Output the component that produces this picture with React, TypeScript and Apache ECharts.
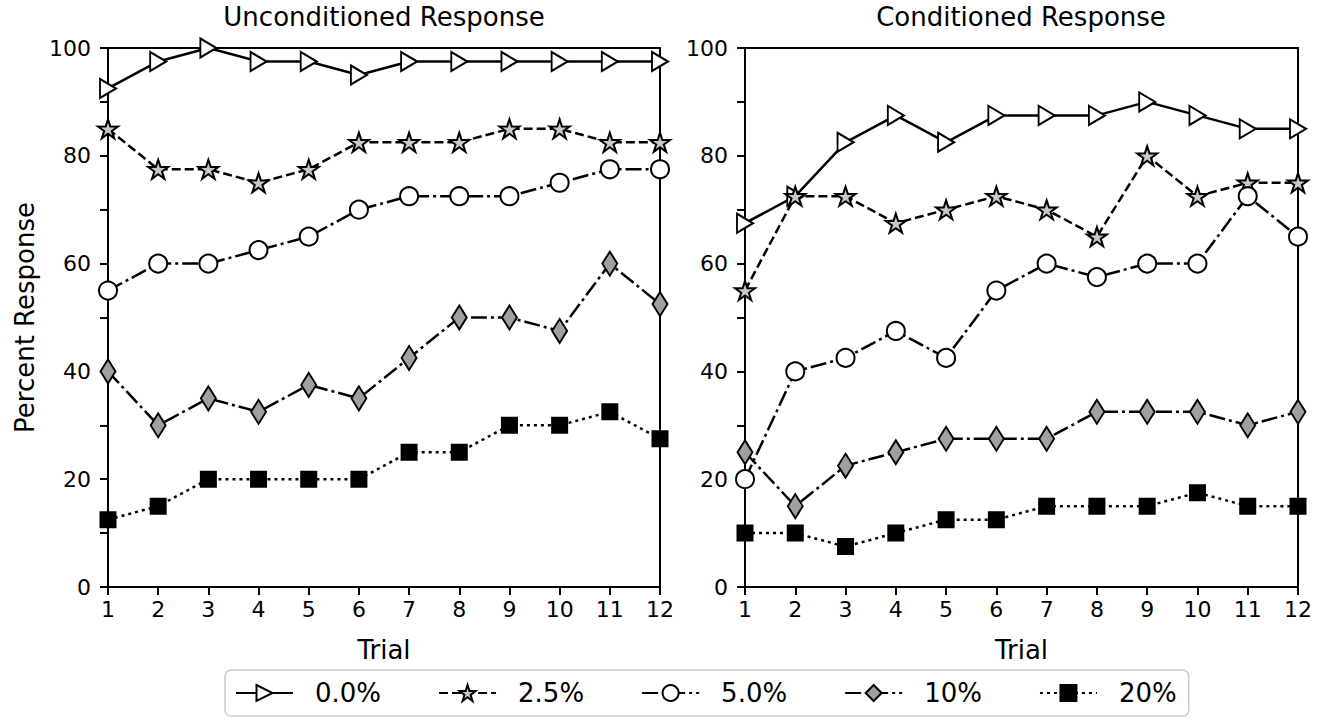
import React, { useEffect, useRef } from 'react';
import * as echarts from 'echarts';

const trials = [1, 2, 3, 4, 5, 6, 7, 8, 9, 10, 11, 12];
const seriesNames = ['0.0%', '2.5%', '5.0%', '10%', '20%'];
const panelTitles = ['Unconditioned Response', 'Conditioned Response'];

// Unconditioned response
const uncond00 = [92.5, 97.5, 100, 97.5, 97.5, 95, 97.5, 97.5, 97.5, 97.5, 97.5, 97.5];
const uncond25 = [85, 77.5, 77.5, 75, 77.5, 82.5, 82.5, 82.5, 85, 85, 82.5, 82.5];
const uncond50 = [55, 60, 60, 62.5, 65, 70, 72.5, 72.5, 72.5, 75, 77.5, 77.5];
const uncond10 = [40, 30, 35, 32.5, 37.5, 35, 42.5, 50, 50, 47.5, 60, 52.5];
const uncond20 = [12.5, 15, 20, 20, 20, 20, 25, 25, 30, 30, 32.5, 27.5];

// Conditioned response
const cond00 = [67.5, 72.5, 82.5, 87.5, 82.5, 87.5, 87.5, 87.5, 90, 87.5, 85, 85];
const cond25 = [55, 72.5, 72.5, 67.5, 70, 72.5, 70, 65, 80, 72.5, 75, 75];
const cond50 = [20, 40, 42.5, 47.5, 42.5, 55, 60, 57.5, 60, 60, 72.5, 65];
const cond10 = [25, 15, 22.5, 25, 27.5, 27.5, 27.5, 32.5, 32.5, 32.5, 30, 32.5];
const cond20 = [10, 10, 7.5, 10, 12.5, 12.5, 15, 15, 15, 17.5, 15, 15];

const FONT = 'DejaVu Sans';
const TRI = 'path://M0,0L20,10L0,20Z';
const STAR =
  'path://M50,0L61.2,34.6L97.6,34.5L68.1,55.9L79.4,90.5L50,69L20.6,90.5L31.9,55.9L2.4,34.5L38.8,34.6Z';

const styles = [
  { symbol: TRI, size: [16, 19], fill: '#ffffff', dash: 'solid' as any },
  { symbol: STAR, size: [20, 19], fill: '#c8c8c8', dash: [9, 4] },
  { symbol: 'circle', size: 18, fill: '#ffffff', dash: [16, 4, 3, 4] },
  { symbol: 'diamond', size: [15, 24], fill: '#a0a0a0', dash: [16, 4, 3, 4] },
  { symbol: 'rect', size: 15, fill: '#000000', dash: [3, 4] },
];

export default function App() {
  const ref = useRef<HTMLDivElement>(null);
  useEffect(() => {
    const chart = echarts.init(ref.current!, null, { renderer: 'svg' });
    const panels = [
      [uncond00, uncond25, uncond50, uncond10, uncond20],
      [cond00, cond25, cond50, cond10, cond20],
    ];
    const series: any[] = [];
    panels.forEach((panel, pi) => {
      panel.forEach((vals, si) => {
        const st = styles[si];
        series.push({
          type: 'line',
          name: seriesNames[si],
          xAxisIndex: pi,
          yAxisIndex: pi,
          data: trials.map((t, i) => [t, vals[i]]),
          symbol: st.symbol,
          symbolSize: st.size,
          showSymbol: true,
          clip: false,
          lineStyle: { color: '#000', width: 2.5, type: st.dash },
          itemStyle: { color: st.fill, borderColor: '#000', borderWidth: 2, opacity: 1 },
          emphasis: { disabled: true },
        });
      });
    });

    const xAxisBase = (gi: number) => ({
      type: 'value',
      gridIndex: gi,
      min: 1,
      max: 12,
      interval: 1,
      axisLine: { lineStyle: { color: '#000', width: 2 } },
      axisTick: { show: true, inside: false, length: 8, lineStyle: { color: '#000', width: 2 } },
      axisLabel: { fontSize: 22, color: '#000', fontFamily: FONT, margin: 11 },
      splitLine: { show: false },
      name: 'Trial',
      nameLocation: 'middle',
      nameGap: 50,
      nameTextStyle: { fontSize: 26, color: '#000', fontFamily: FONT },
    });
    const yAxisBase = (gi: number) => ({
      type: 'value',
      gridIndex: gi,
      min: 0,
      max: 100,
      interval: 10,
      axisLine: { show: true, lineStyle: { color: '#000', width: 2 } },
      axisTick: { show: true, inside: false, length: 8, lineStyle: { color: '#000', width: 2 } },
      axisLabel: {
        fontSize: 22,
        color: '#000',
        fontFamily: FONT,
        margin: 17,
        formatter: (v: number) => (v % 20 === 0 ? String(v) : ''),
      },
      splitLine: { show: false },
      ...(gi === 0
        ? {
            name: 'Percent Response',
            nameLocation: 'middle',
            nameGap: 70,
            nameRotate: 90,
            nameTextStyle: { fontSize: 26, color: '#000', fontFamily: FONT },
          }
        : {}),
    });

    const option: any = {
      animation: false,
      backgroundColor: '#fff',
      title: [
        {
          text: panelTitles[0],
          left: 384,
          top: 4,
          textAlign: 'center',
          padding: 0,
          textStyle: { fontSize: 26, fontWeight: 'normal', color: '#000', fontFamily: FONT },
        },
        {
          text: panelTitles[1],
          left: 1021,
          top: 4,
          textAlign: 'center',
          padding: 0,
          textStyle: { fontSize: 26, fontWeight: 'normal', color: '#000', fontFamily: FONT },
        },
      ],
      grid: [
        { left: 108, right: 667, top: 48, bottom: 132, show: true, borderColor: '#000', borderWidth: 2, backgroundColor: 'transparent' },
        { left: 745, right: 29, top: 48, bottom: 132, show: true, borderColor: '#000', borderWidth: 2, backgroundColor: 'transparent' },
      ],
      xAxis: [xAxisBase(0), xAxisBase(1)],
      yAxis: [yAxisBase(0), yAxisBase(1)],
      legend: {
        data: seriesNames,
        left: 225,
        top: 670,
        orient: 'horizontal',
        itemWidth: 57,
        itemHeight: 20,
        itemGap: 57,
        selectedMode: false,
        textStyle: { fontSize: 26, color: '#000', fontFamily: FONT, padding: [0, 0, 0, 17] },
        borderColor: '#cccccc',
        borderWidth: 1.5,
        borderRadius: 6,
        padding: [10, 12, 10, 10],
      },
      series,
    };
    chart.setOption(option);
    return () => chart.dispose();
  }, []);
  return (
    <div
      ref={ref}
      style={{ position: 'absolute', left: 0, top: 0, width: 1327, height: 719 }}
    />
  );
}
